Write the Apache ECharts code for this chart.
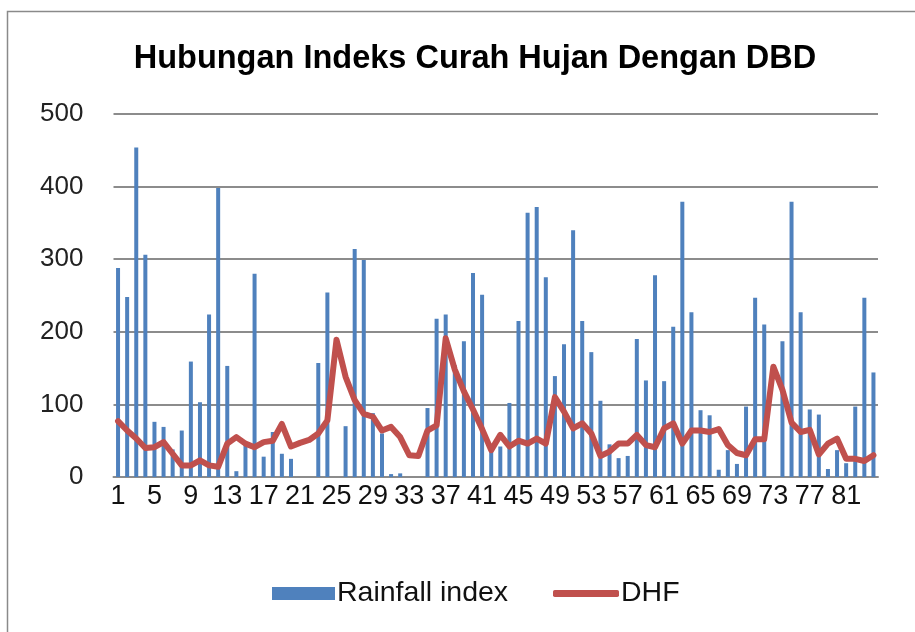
<!DOCTYPE html>
<html>
<head>
<meta charset="utf-8">
<script src="https://cdn.jsdelivr.net/npm/echarts@6/dist/echarts.min.js"></script>
<style>
html,body{margin:0;padding:0;background:#fff;}
#c{width:915px;height:632px;}
</style>
</head>
<body>
<div id="c"></div>
<script>
var titleText = 'Hubungan Indeks Curah Hujan Dengan DBD';
var categories = [];
for (var i = 1; i <= 84; i++) categories.push(String(i));
var yTicks = [0, 100, 200, 300, 400, 500];

var rainfallIndex = [
  288, 248, 454, 306, 76, 69, 38, 64, 159, 103,
  224, 398, 153, 8, 46, 280, 28, 62, 32, 25,
  0, 0, 157, 254, 0, 70, 314, 299, 88, 60,
  4, 5, 0, 0, 95, 218, 224, 154, 187, 281,
  251, 36, 42, 102, 215, 364, 372, 275, 139, 183,
  340, 215, 172, 105, 45, 26, 29, 190, 133, 278,
  132, 207, 379, 227, 92, 85, 10, 37, 18, 97,
  247, 210, 0, 187, 379, 227, 93, 86, 11, 37,
  19, 97, 247, 144
];
var dhf = [
  77, 64, 53, 40, 41, 48, 32, 16, 16, 23,
  16, 14, 46, 55, 46, 41, 48, 50, 73, 42,
  47, 51, 60, 78, 189, 138, 106, 87, 83, 64,
  69, 55, 30, 29, 64, 71, 191, 148, 118, 93,
  66, 37, 58, 42, 50, 46, 53, 46, 110, 90,
  67, 74, 60, 29, 35, 46, 46, 58, 44, 41,
  67, 74, 46, 64, 64, 62, 66, 44, 33, 30,
  52, 52, 152, 120, 75, 62, 65, 31, 46, 53,
  25, 25, 22, 30
];

var chart = echarts.init(document.getElementById('c'), null, {renderer: 'canvas'});
chart.setOption({
  animation: false,
  backgroundColor: '#ffffff',
  title: {
    text: titleText,
    left: 470, top: 38, textAlign: 'center',
    textStyle: {fontFamily: 'Liberation Sans', fontWeight: 'bold', fontSize: 32.5, color: '#000'}
  },
  graphic: [{
    type: 'rect', shape: {x: 7.5, y: 11.5, width: 940, height: 660},
    style: {fill: 'none', stroke: '#8a8a8a', lineWidth: 1.5}, silent: true, z: -1
  }],
  legend: [{
    data: ['Rainfall index'], left: 267, top: 574,
    itemWidth: 63, itemHeight: 13, icon: 'rect',
    textStyle: {fontFamily: 'Liberation Sans', fontSize: 28.5, color: '#111', padding: [0,0,0,-3]}
  }, {
    data: ['DHF'], left: 548, top: 574,
    itemWidth: 66, itemHeight: 7, icon: 'roundRect',
    textStyle: {fontFamily: 'Liberation Sans', fontSize: 28.5, color: '#111', padding: [0,0,0,-3]}
  }],
  grid: {left: 113.5, right: 37, top: 114, bottom: 155, containLabel: false},
  xAxis: {
    type: 'category', data: categories, boundaryGap: true,
    axisLine: {show: true, lineStyle: {color: '#8c8c8c', width: 2}},
    axisTick: {show: false},
    axisLabel: {interval: 3, margin: 6, fontFamily: 'Liberation Sans', fontSize: 27, color: '#111'}
  },
  yAxis: {
    type: 'value', min: yTicks[0], max: yTicks[yTicks.length - 1], interval: 100,
    axisLine: {show: false}, axisTick: {show: false},
    axisLabel: {margin: 30, fontFamily: 'Liberation Sans', fontSize: 26, color: '#222'},
    splitLine: {lineStyle: {color: '#8c8c8c', width: 2}}
  },
  series: [{
    name: 'Rainfall index', type: 'bar', data: rainfallIndex,
    barWidth: 4, itemStyle: {color: '#4F81BD'}, z: 2
  }, {
    name: 'DHF', type: 'line', data: dhf, symbol: 'none', smooth: false,
    lineStyle: {color: '#C0504D', width: 6, join: 'round', cap: 'round'},
    itemStyle: {color: '#C0504D'}, z: 3
  }]
});
</script>
</body>
</html>
